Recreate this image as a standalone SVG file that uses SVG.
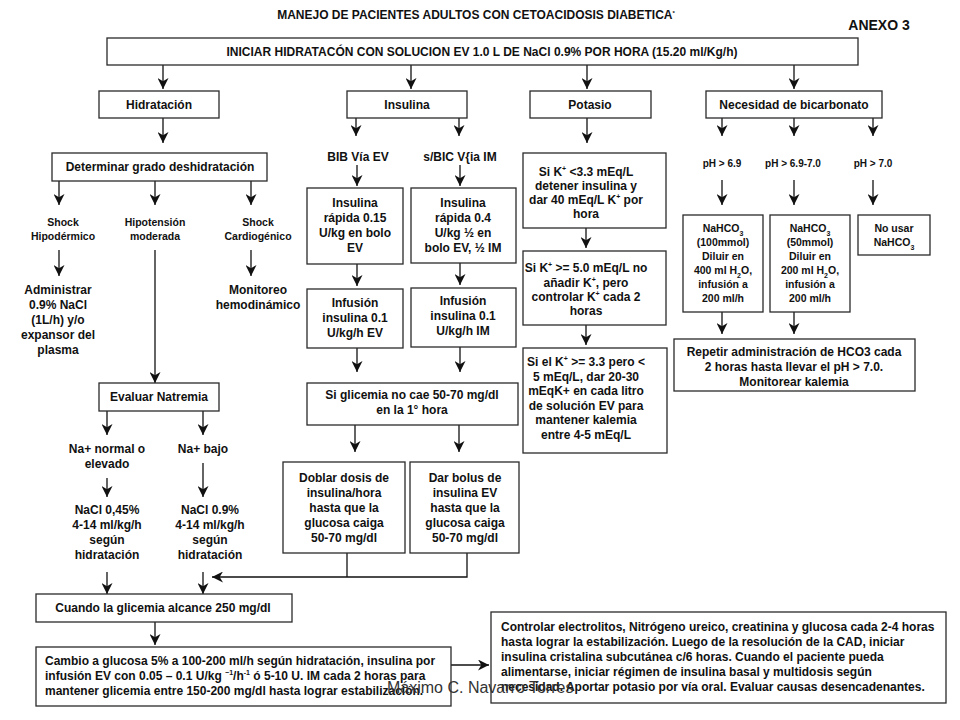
<svg xmlns="http://www.w3.org/2000/svg" width="960" height="720" viewBox="0 0 960 720">
<style>
.bx{fill:#fff;stroke:#2a2a2a;stroke-width:1.3}
.t{font-family:"Liberation Sans",Arial,sans-serif;font-weight:bold;font-size:12px;fill:#111;text-anchor:middle}
.l{text-anchor:start}
.s{font-size:10.5px}
.p{font-size:10px}
.c line,.c polyline{stroke:#111;stroke-width:1.3;fill:none}
.a{marker-end:url(#ah)}
.wm{font-family:"Liberation Sans",Arial,sans-serif;font-size:16px;fill:#333}
</style>
<defs>
<marker id="ah" viewBox="0 0 10 10" refX="10" refY="5" markerWidth="11" markerHeight="11" markerUnits="userSpaceOnUse" orient="auto">
<path d="M0,0 L10,5 L0,10 L3,5 z" fill="#111"/>
</marker>
</defs>
<rect width="960" height="720" fill="#fff"/>

<g id="title">
<text class="t" x="476" y="19" style="font-size:12px">MANEJO DE PACIENTES ADULTOS CON CETOACIDOSIS DIABETICA<tspan font-size="6" dy="-4">*</tspan></text>
<text class="t" x="879" y="30" style="font-size:14px">ANEXO 3</text>
</g>

<g class="c" id="connectors">
<line class="a" x1="163" y1="65" x2="163" y2="89"/>
<line class="a" x1="411" y1="65" x2="411" y2="89"/>
<line class="a" x1="587" y1="65" x2="587" y2="89"/>
<line class="a" x1="794" y1="65" x2="794" y2="89"/>
<line class="a" x1="163" y1="118" x2="163" y2="143"/>
<line class="a" x1="59" y1="181" x2="59" y2="205"/>
<line class="a" x1="155" y1="181" x2="155" y2="205"/>
<line class="a" x1="251" y1="181" x2="251" y2="205"/>
<line class="a" x1="59" y1="250" x2="59" y2="276"/>
<line class="a" x1="251" y1="250" x2="251" y2="276"/>
<line class="a" x1="155" y1="250" x2="155" y2="383"/>
<line class="a" x1="107" y1="411" x2="107" y2="435"/>
<line class="a" x1="203" y1="411" x2="203" y2="435"/>
<line class="a" x1="107" y1="478" x2="107" y2="497"/>
<line class="a" x1="203" y1="463" x2="203" y2="497"/>
<line class="a" x1="107" y1="572" x2="107" y2="594"/>
<line class="a" x1="203" y1="572" x2="203" y2="594"/>
<line class="a" x1="356" y1="118" x2="356" y2="136"/>
<line class="a" x1="459" y1="118" x2="459" y2="136"/>
<line class="a" x1="357" y1="165" x2="357" y2="186"/>
<line class="a" x1="460" y1="165" x2="460" y2="186"/>
<line class="a" x1="357" y1="264" x2="357" y2="286"/>
<line class="a" x1="460" y1="263" x2="460" y2="285"/>
<line class="a" x1="357" y1="348" x2="357" y2="372"/>
<line class="a" x1="460" y1="347" x2="460" y2="372"/>
<line class="a" x1="355" y1="425" x2="355" y2="452"/>
<line class="a" x1="459" y1="425" x2="459" y2="452"/>
<line x1="347" y1="553" x2="347" y2="577"/>
<polyline class="a" points="467,553 467,577 212,577"/>
<line class="a" x1="587" y1="118" x2="587" y2="143"/>
<line class="a" x1="586" y1="228" x2="586" y2="248"/>
<line class="a" x1="586" y1="325" x2="586" y2="345"/>
<line class="a" x1="722" y1="118" x2="722" y2="136"/>
<line class="a" x1="794" y1="118" x2="794" y2="136"/>
<line class="a" x1="873" y1="118" x2="873" y2="136"/>
<line class="a" x1="722" y1="180" x2="722" y2="205"/>
<line class="a" x1="794" y1="180" x2="794" y2="205"/>
<line class="a" x1="873" y1="180" x2="873" y2="205"/>
<line class="a" x1="722" y1="312" x2="722" y2="334"/>
<line class="a" x1="794" y1="312" x2="794" y2="334"/>
<line class="a" x1="155" y1="622" x2="155" y2="645"/>
<line class="a" x1="451" y1="665" x2="489" y2="665"/>
</g>

<g id="n_iniciar"><rect class="bx" x="107" y="38" width="751" height="27"/>
<text class="t" x="482" y="56">INICIAR HIDRATACÓN CON SOLUCION EV 1.0 L DE NaCl 0.9% POR HORA (15.20 ml/Kg/h)</text></g>

<g id="n_hidratacion"><rect class="bx" x="99" y="91" width="120" height="27"/><text class="t" x="159" y="109">Hidratación</text></g>
<g id="n_insulina"><rect class="bx" x="347" y="91" width="120" height="27"/><text class="t" x="407" y="109">Insulina</text></g>
<g id="n_potasio"><rect class="bx" x="530" y="91" width="121" height="27"/><text class="t" x="590" y="109">Potasio</text></g>
<g id="n_bicarbonato"><rect class="bx" x="706" y="91" width="176" height="27"/><text class="t" x="794" y="109">Necesidad de bicarbonato</text></g>

<g id="n_determinar"><rect class="bx" x="52" y="153" width="215" height="28"/><text class="t" x="160" y="171">Determinar grado deshidratación</text></g>
<g id="n_shock_hipo"><text class="t s" x="63" y="226">Shock</text><text class="t s" x="63" y="240">Hipodérmico</text></g>
<g id="n_hipotension"><text class="t s" x="155" y="226">Hipotensión</text><text class="t s" x="155" y="240">moderada</text></g>
<g id="n_shock_cardio"><text class="t s" x="258" y="226">Shock</text><text class="t s" x="258" y="240">Cardiogénico</text></g>
<g id="n_administrar"><text class="t" x="58" y="294">Administrar</text><text class="t" x="58" y="309">0.9% NaCl</text><text class="t" x="58" y="324">(1L/h) y/o</text><text class="t" x="58" y="339">expansor del</text><text class="t" x="58" y="354">plasma</text></g>
<g id="n_monitoreo"><text class="t" x="258" y="294">Monitoreo</text><text class="t" x="258" y="309">hemodinámico</text></g>

<g id="n_evaluar"><rect class="bx" x="99" y="383" width="120" height="28"/><text class="t" x="159" y="401">Evaluar Natremia</text></g>
<g id="n_na_normal"><text class="t" x="107" y="453">Na+ normal o</text><text class="t" x="107" y="468">elevado</text></g>
<g id="n_na_bajo"><text class="t" x="203" y="453">Na+ bajo</text></g>
<g id="n_nacl045"><text class="t" x="107" y="514">NaCl 0,45%</text><text class="t" x="107" y="529">4-14 ml/kg/h</text><text class="t" x="107" y="544">según</text><text class="t" x="107" y="559">hidratación</text></g>
<g id="n_nacl09"><text class="t" x="210" y="514">NaCl 0.9%</text><text class="t" x="210" y="529">4-14 ml/kg/h</text><text class="t" x="210" y="544">según</text><text class="t" x="210" y="559">hidratación</text></g>

<g id="n_bib"><text class="t" x="358" y="161">BIB Vía EV</text></g>
<g id="n_sbic"><text class="t" x="460" y="161">s/BIC V{ia IM</text></g>
<g id="n_rapida015"><rect class="bx" x="307" y="188" width="96" height="76"/>
<text class="t" x="355" y="207">Insulina</text><text class="t" x="355" y="222">rápida 0.15</text><text class="t" x="355" y="237">U/kg en bolo</text><text class="t" x="355" y="252">EV</text></g>
<g id="n_rapida04"><rect class="bx" x="411" y="188" width="105" height="75"/>
<text class="t" x="463" y="207">Insulina</text><text class="t" x="463" y="222">rápida 0.4</text><text class="t" x="463" y="237">U/kg ½ en</text><text class="t" x="463" y="252">bolo EV, ½ IM</text></g>
<g id="n_infusion_ev"><rect class="bx" x="307" y="289" width="96" height="59"/>
<text class="t" x="355" y="307">Infusión</text><text class="t" x="355" y="322">insulina 0.1</text><text class="t" x="355" y="337">U/kg/h EV</text></g>
<g id="n_infusion_im"><rect class="bx" x="411" y="288" width="105" height="59"/>
<text class="t" x="463" y="305">Infusión</text><text class="t" x="463" y="320">insulina 0.1</text><text class="t" x="463" y="335">U/kg/h IM</text></g>
<g id="n_siglicemia"><rect class="bx" x="307" y="383" width="211" height="42"/>
<text class="t" x="412" y="399">Si glicemia no cae 50-70 mg/dl</text><text class="t" x="412" y="414">en la 1° hora</text></g>
<g id="n_doblar"><rect class="bx" x="283" y="462" width="122" height="91"/>
<text class="t" x="344" y="482">Doblar dosis de</text><text class="t" x="344" y="497">insulina/hora</text><text class="t" x="344" y="512">hasta que la</text><text class="t" x="344" y="527">glucosa caiga</text><text class="t" x="344" y="542">50-70 mg/dl</text></g>
<g id="n_darbolus"><rect class="bx" x="410" y="462" width="109" height="91"/>
<text class="t" x="465" y="482">Dar bolus de</text><text class="t" x="465" y="497">insulina EV</text><text class="t" x="465" y="512">hasta que la</text><text class="t" x="465" y="527">glucosa caiga</text><text class="t" x="465" y="542">50-70 mg/dl</text></g>

<g id="n_k1"><rect class="bx" x="523" y="153" width="143" height="75"/>
<text class="t" x="586" y="176">Si K<tspan font-size="7" dy="-5">+</tspan><tspan dy="5"> &lt;3.3 mEq/L</tspan></text>
<text class="t" x="586" y="190">detener insulina y</text>
<text class="t" x="586" y="204">dar 40 mEq/L K<tspan font-size="7" dy="-5">+</tspan><tspan dy="5"> por</tspan></text>
<text class="t" x="586" y="218">hora</text></g>
<g id="n_k2"><rect class="bx" x="523" y="251" width="143" height="74"/>
<text class="t" x="586" y="272">Si K<tspan font-size="7" dy="-5">+</tspan><tspan dy="5"> &gt;= 5.0 mEq/L no</tspan></text>
<text class="t" x="586" y="287">añadir K<tspan font-size="7" dy="-5">+</tspan><tspan dy="5">, pero</tspan></text>
<text class="t" x="586" y="301">controlar K<tspan font-size="7" dy="-5">+</tspan><tspan dy="5"> cada 2</tspan></text>
<text class="t" x="586" y="315">horas</text></g>
<g id="n_k3"><rect class="bx" x="523" y="348" width="144" height="105"/>
<text class="t" x="586" y="366">Si el K<tspan font-size="7" dy="-5">+</tspan><tspan dy="5"> &gt;= 3.3 pero &lt;</tspan></text>
<text class="t" x="586" y="381">5 mEq/L, dar 20-30</text>
<text class="t" x="586" y="395">mEqK+ en cada litro</text>
<text class="t" x="586" y="410">de solución EV para</text>
<text class="t" x="586" y="424">mantener kalemia</text>
<text class="t" x="586" y="439">entre 4-5 mEq/L</text></g>

<g id="n_ph1"><text class="t p" x="722" y="167">pH &gt; 6.9</text></g>
<g id="n_ph2"><text class="t p" x="793" y="167">pH &gt; 6.9-7.0</text></g>
<g id="n_ph3"><text class="t p" x="873" y="167">pH &gt; 7.0</text></g>
<g id="n_nahco3_100"><rect class="bx" x="683" y="215" width="80" height="97"/>
<text class="t s" x="723" y="232">NaHCO<tspan font-size="7" baseline-shift="sub">3</tspan></text>
<text class="t s" x="723" y="246">(100mmol)</text>
<text class="t s" x="723" y="260">Diluir en</text>
<text class="t s" x="723" y="274">400 ml H<tspan font-size="7" baseline-shift="sub">2</tspan>O,</text>
<text class="t s" x="723" y="288">infusión a</text>
<text class="t s" x="723" y="302">200 ml/h</text></g>
<g id="n_nahco3_50"><rect class="bx" x="770" y="215" width="80" height="97"/>
<text class="t s" x="810" y="232">NaHCO<tspan font-size="7" baseline-shift="sub">3</tspan></text>
<text class="t s" x="810" y="246">(50mmol)</text>
<text class="t s" x="810" y="260">Diluir en</text>
<text class="t s" x="810" y="274">200 ml H<tspan font-size="7" baseline-shift="sub">2</tspan>O,</text>
<text class="t s" x="810" y="288">infusión a</text>
<text class="t s" x="810" y="302">200 ml/h</text></g>
<g id="n_nousar"><rect class="bx" x="858" y="215" width="72" height="40"/>
<text class="t s" x="894" y="232">No usar</text>
<text class="t s" x="894" y="246">NaHCO<tspan font-size="7" baseline-shift="sub">3</tspan></text></g>
<g id="n_repetir"><rect class="bx" x="674" y="339" width="241" height="52"/>
<text class="t" x="794" y="356">Repetir administración de HCO3 cada</text>
<text class="t" x="794" y="371">2 horas hasta llevar el pH &gt; 7.0.</text>
<text class="t" x="794" y="386">Monitorear kalemia</text></g>

<g id="n_cuando"><rect class="bx" x="36" y="594" width="256" height="28"/><text class="t" x="163" y="612">Cuando la glicemia alcance 250 mg/dl</text></g>
<g id="n_cambio"><rect class="bx" x="36" y="647" width="415" height="59"/>
<text class="t l" x="45" y="665">Cambio a glucosa 5%  a 100-200 ml/h según hidratación, insulina por</text>
<text class="t l" x="45" y="680">infusión EV con 0.05 – 0.1 U/kg <tspan font-size="7" dy="-5">−1</tspan><tspan dy="5">/h</tspan><tspan font-size="7" dy="-5">-1</tspan><tspan dy="5">  ó 5-10 U. IM cada 2 horas para</tspan></text>
<text class="t l" x="45" y="695">mantener glicemia entre 150-200 mg/dl hasta lograr estabilización.</text></g>
<g id="n_controlar"><rect class="bx" x="491" y="612" width="455" height="91"/>
<text class="t l" x="501" y="631">Controlar electrolitos, Nitrógeno ureico, creatinina y glucosa cada 2-4 horas</text>
<text class="t l" x="501" y="646">hasta lograr la estabilización. Luego de la resolución de la CAD, iniciar</text>
<text class="t l" x="501" y="661">insulina cristalina subcutánea c/6 horas. Cuando el paciente pueda</text>
<text class="t l" x="501" y="676">alimentarse, iniciar régimen de insulina basal y multidosis según</text>
<text class="t l" x="501" y="691">necesidad. Aportar potasio por vía oral. Evaluar causas desencadenantes.</text></g>

<text class="wm" x="387" y="693">Máximo C. Navarro Torres</text>
</svg>
